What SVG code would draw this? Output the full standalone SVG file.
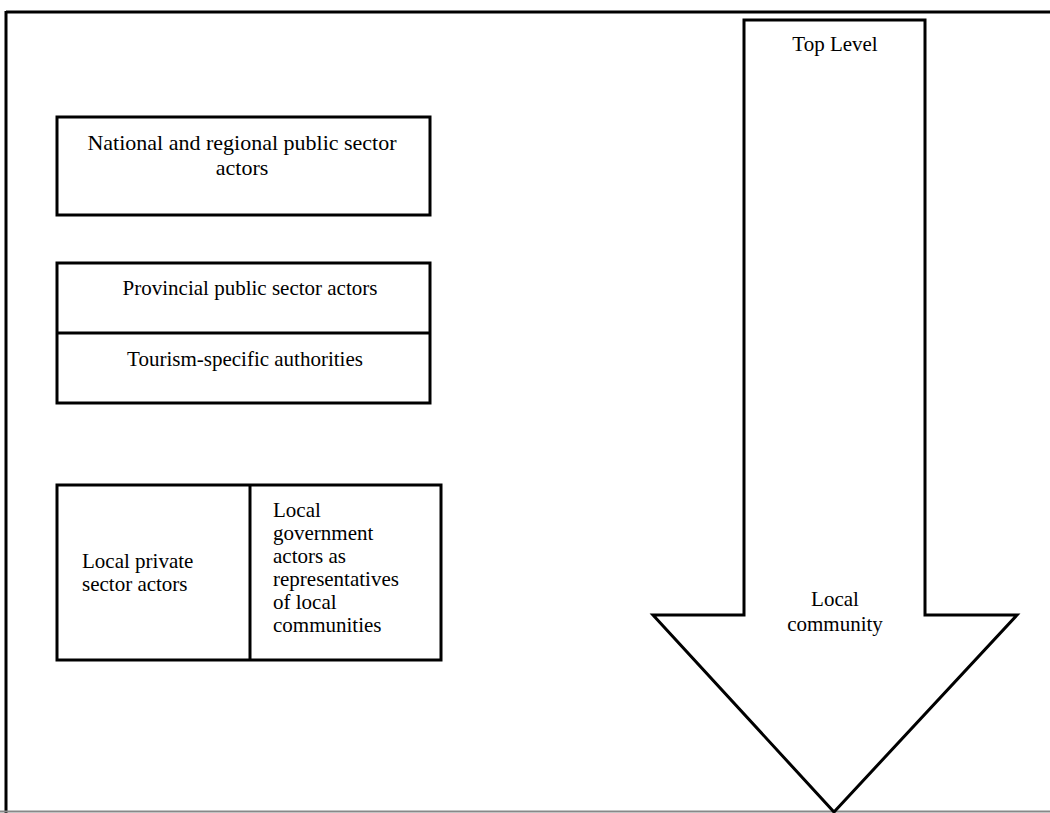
<svg xmlns="http://www.w3.org/2000/svg" width="1050" height="813" viewBox="0 0 1050 813">
<style>
.box{fill:#fff;stroke:#000;stroke-width:3}
.ln{stroke:#000;stroke-width:3;fill:none}
text{font-family:"Liberation Serif","Times New Roman",serif;font-size:21px;fill:#000}
.c{text-anchor:middle}
.big{font-size:22px}
</style>
<rect width="1050" height="813" fill="#fff"/>
<g id="frame">
<line class="ln" x1="6" y1="12" x2="1050" y2="12"/>
<line class="ln" x1="6" y1="11" x2="6" y2="813"/>
<line x1="0" y1="811.5" x2="1050" y2="811.5" stroke="#888" stroke-width="2"/>
</g>
<g id="arrow">
<polygon class="box" points="744,20 925,20 925,615 1017,615 834,812 653,615 744,615"/>
<text class="c" x="835" y="51">Top Level</text>
<text class="c" x="835" y="606">Local</text>
<text class="c" x="835" y="631">community</text>
</g>
<g id="national">
<rect class="box" x="57" y="117" width="373" height="98"/>
<text class="c big" x="242" y="150">National and regional public sector</text>
<text class="c big" x="242" y="175">actors</text>
</g>
<g id="provincial">
<rect class="box" x="57" y="263" width="373" height="140"/>
<line class="ln" x1="57" y1="333" x2="430" y2="333"/>
<text class="c" x="250" y="295">Provincial public sector actors</text>
<text class="c" x="245" y="366">Tourism-specific authorities</text>
</g>
<g id="local">
<rect class="box" x="57" y="485" width="384" height="175"/>
<line class="ln" x1="250" y1="485" x2="250" y2="660"/>
<text x="82" y="568">Local private</text>
<text x="82" y="591">sector actors</text>
<text x="273" y="517">Local</text>
<text x="273" y="540">government</text>
<text x="273" y="563">actors as</text>
<text x="273" y="586">representatives</text>
<text x="273" y="609">of local</text>
<text x="273" y="632">communities</text>
</g>
</svg>
